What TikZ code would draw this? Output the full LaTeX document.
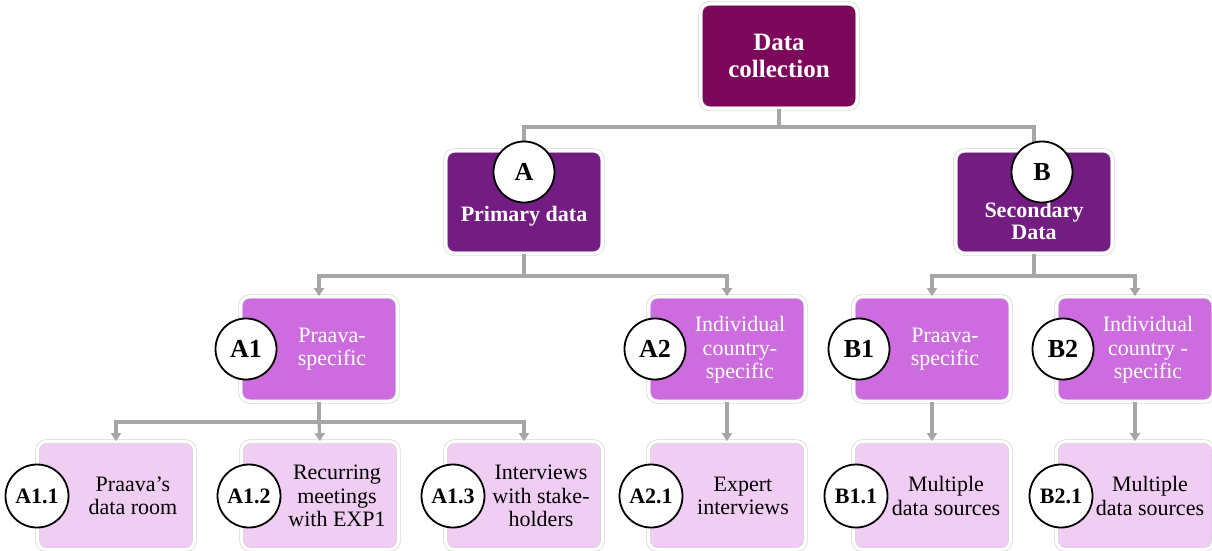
\documentclass[tikz,border=0pt]{standalone}
\usepackage{fontspec}
\setmainfont{Liberation Serif}
\usetikzlibrary{arrows.meta,calc}
\definecolor{dcc}{RGB}{123,8,91}
\definecolor{lone}{RGB}{115,28,129}
\definecolor{ltwo}{RGB}{205,108,222}
\definecolor{lthree}{RGB}{240,205,243}
\definecolor{conncol}{RGB}{166,166,166}
\definecolor{rim}{RGB}{212,212,212}
\begin{document}
\begin{tikzpicture}[x=1pt,y=-1pt,
  box/.style={rounded corners=9pt, draw=rim, line width=0.7pt, double=white, double distance=3pt,
              minimum width=157pt, inner sep=0pt},
  boxdc/.style={box, fill=dcc, minimum height=105pt},
  boxone/.style={box, fill=lone, minimum height=103pt},
  boxtwo/.style={box, fill=ltwo, minimum height=105pt},
  boxthree/.style={box, fill=lthree, minimum height=108pt},
  tdc/.style={text=white, align=center, font=\fontsize{25}{27}\selectfont\bfseries},
  tone/.style={text=white, align=center, font=\fontsize{22}{22}\selectfont\bfseries},
  ttwo/.style={text=white, align=center, font=\fontsize{22}{23.5}\selectfont},
  tthree/.style={text=black, align=center, font=\fontsize{22}{23.5}\selectfont},
  circ/.style={circle, draw=black, line width=1.8pt, fill=white, minimum size=61pt, inner sep=0pt,
               font=\fontsize{26}{26}\selectfont\bfseries},
  circsmall/.style={circ, minimum size=63pt, font=\fontsize{22}{22}\selectfont\bfseries},
  conn/.style={draw=conncol, line width=3.3pt},
  arr/.style={conn, -{Triangle[width=10pt,length=8pt]}}
]
\useasboundingbox (0,0) rectangle (1212,550);
% boxes
\node[boxdc] (dc) at (779,56) {};
\node[boxone] (pa) at (524,202) {};
\node[boxone] (pb) at (1034,202) {};
\node[boxtwo] (a1) at (319,349) {};
\node[boxtwo] (a2) at (727,349) {};
\node[boxtwo] (b1) at (932,349) {};
\node[boxtwo] (b2) at (1135,349) {};
\node[boxthree] (a11) at (116,495.5) {};
\node[boxthree] (a12) at (320,495.5) {};
\node[boxthree] (a13) at (524,495.5) {};
\node[boxthree] (a21) at (727,495.5) {};
\node[boxthree] (b11) at (932,495.5) {};
\node[boxthree] (b21) at (1135,495.5) {};
% bus levels
\coordinate (busone) at (0,127);
\coordinate (bustwo) at (0,276);
\coordinate (busthree) at (0,422);
% connectors
\draw[conn] (dc.south) -- (dc.south |- busone) -| (pa.north);
\draw[conn] (dc.south |- busone) -| (pb.north);
\draw[arr] (pa.south) -- (pa.south |- bustwo) -| (a1.north);
\draw[arr] (pa.south |- bustwo) -| (a2.north);
\draw[arr] (pb.south) -- (pb.south |- bustwo) -| (b1.north);
\draw[arr] (pb.south |- bustwo) -| (b2.north);
\draw[arr] (a1.south) -- (a1.south |- busthree) -| (a11.north);
\draw[arr] (a1.south |- busthree) -| (a13.north);
\draw[arr] (a1.south |- busthree) -- (a12.north);
\draw[arr] (a2.south) -- (a21.north);
\draw[arr] (b1.south) -- (b11.north);
\draw[arr] (b2.south) -- (b21.north);
% texts
\node[tdc] (dct) at (779,56) {Data\\collection};
\node[tone] (pat) at (524,216) {Primary data};
\node[tone] (pbt) at (1034,221) {Secondary\\Data};
\node[ttwo] (a1t) at (332,349) {Praava-\\specific};
\node[ttwo] (a2t) at (740,350) {Individual\\country-\\specific};
\node[ttwo] (b1t) at (945,349) {Praava-\\specific};
\node[ttwo] (b2t) at (1148,350) {Individual\\country -\\specific};
\node[tthree] (a11t) at (133,496) {Praava’s\\data room};
\node[tthree] (a12t) at (337,496) {Recurring\\meetings\\with EXP1};
\node[tthree] (a13t) at (541,496) {Interviews\\with stake-\\holders};
\node[tthree] (a21t) at (743,496) {Expert\\interviews};
\node[tthree] (b11t) at (946,496) {Multiple\\data sources};
\node[tthree] (b21t) at (1150,496) {Multiple\\data sources};
% circles
\node[circ] (ca) at (524,172) {A};
\node[circ] (cb) at (1042,172) {B};
\node[circ] (ca1) at (246,349) {A1};
\node[circ] (ca2) at (655,349) {A2};
\node[circ] (cb1) at (859,349) {B1};
\node[circ] (cb2) at (1063,349) {B2};
\node[circsmall] (ca11) at (37,496) {A1.1};
\node[circsmall] (ca12) at (249,496) {A1.2};
\node[circsmall] (ca13) at (453,496) {A1.3};
\node[circsmall] (ca21) at (651,496) {A2.1};
\node[circsmall] (cb11) at (856,496) {B1.1};
\node[circsmall] (cb21) at (1061,496) {B2.1};
\end{tikzpicture}
\end{document}
